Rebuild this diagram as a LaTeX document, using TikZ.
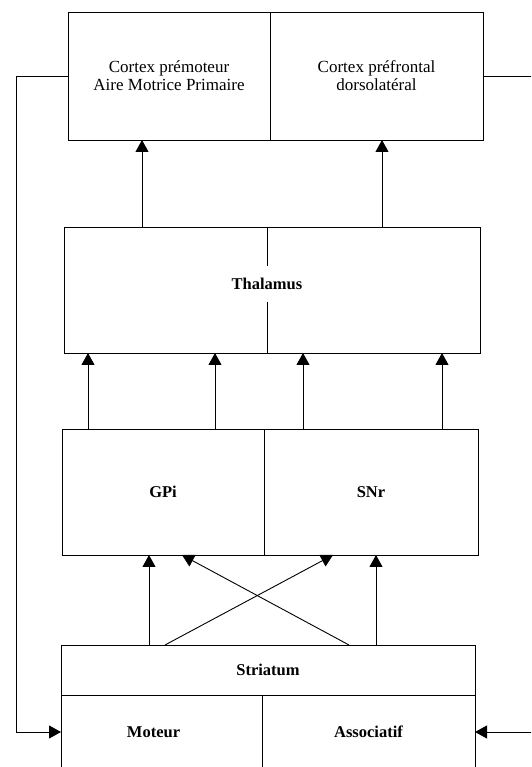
\documentclass[tikz,border=0pt]{standalone}
\usepackage{fontspec}
\setmainfont{Liberation Serif}
\usetikzlibrary{arrows.meta,positioning}

\begin{document}
\begin{tikzpicture}[x=1pt,y=1pt,>={Triangle[width=13pt,length=12pt]},line width=0.9pt,
    box/.style={draw, rectangle, inner sep=0pt, outer sep=0pt, align=center, font=\fontsize{17}{18}\selectfont},
    bbox/.style={box, font=\fontsize{16.5}{18}\selectfont\bfseries}]
    \clip (0,0) rectangle (531,767);

    \node[box, minimum width=202, minimum height=128] (CP) at (169,691) {Cortex prémoteur\\Aire Motrice Primaire};
    \node[box, minimum width=213, minimum height=128, right=0pt of CP] (CF) {Cortex préfrontal\\dorsolatéral};

    \node[box, minimum width=416, minimum height=126] (T) at (272,477) {};
    \node[bbox, draw=none, minimum height=36] (Tl) at (267,483) {Thalamus};
    \draw (T.north -| Tl) -- (Tl.north);
    \draw (Tl.south) -- (T.south -| Tl);

    \node[bbox, minimum width=202, minimum height=126] (G) at (163,275) {GPi};
    \node[bbox, minimum width=214, minimum height=126, right=0pt of G] (S) {SNr};

    \node[bbox, minimum width=414, minimum height=50] (St) at (268,97) {Striatum};
    \node[bbox, minimum width=201, minimum height=74, anchor=north west] (M) at (St.south west) {Moteur\hspace*{16pt}};
    \node[bbox, minimum width=213, minimum height=74, anchor=north west] (As) at (M.north east) {Associatif};

    \coordinate (a1) at (142,0);
    \coordinate (a2) at (382,0);
    \coordinate (b1) at (88,0);
    \coordinate (b2) at (215,0);
    \coordinate (b3) at (303,0);
    \coordinate (b4) at (442,0);
    \coordinate (c1) at (149,0);
    \coordinate (c2) at (376,0);
    \coordinate (d1) at (165,0);
    \coordinate (d2) at (333,0);
    \coordinate (d3) at (349,0);
    \coordinate (d4) at (182,0);
    \coordinate (R) at (540,35);

    \path[->]
    (T.north -| a1) edge (CP.south -| a1)
    (T.north -| a2) edge (CF.south -| a2)
    (G.north -| b1) edge (T.south -| b1)
    (G.north -| b2) edge (T.south -| b2)
    (S.north -| b3) edge (T.south -| b3)
    (S.north -| b4) edge (T.south -| b4)
    (St.north -| c1) edge (G.south -| c1)
    (St.north -| c2) edge (S.south -| c2)
    (St.north -| d1) edge (S.south -| d2)
    (St.north -| d3) edge (G.south -| d4);

    \draw[->] (CP.west) -- ++(-52,0) |- (M.west);
    \draw (CF.east) -- ++(60,0);
    \draw[->] (R) -- (As.east);
\end{tikzpicture}
\end{document}
